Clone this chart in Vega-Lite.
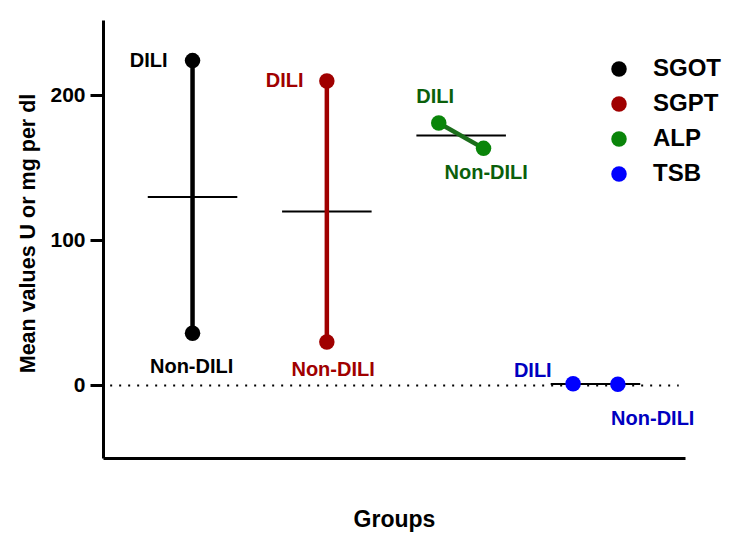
{
  "$schema": "https://vega.github.io/schema/vega-lite/v6.json",
  "autosize": "none",
  "width": 582,
  "height": 438,
  "padding": {"left": 103, "top": 20, "right": 65, "bottom": 97},
  "config": {
    "view": {"stroke": null},
    "font": "Liberation Sans",
    "axis": {"grid": false, "domainColor": "black", "domainWidth": 3, "tickColor": "black", "labelColor": "black", "titleColor": "black", "labelFont": "Liberation Sans", "titleFont": "Liberation Sans"},
    "axisY": {"tickSize": 13, "tickWidth": 3, "labelFontSize": 21, "labelFontWeight": "bold", "labelPadding": 5, "titleFontSize": 21.5, "titleFontWeight": "bold", "titlePadding": 10},
    "axisX": {"labels": false, "ticks": false, "titleFontSize": 23, "titleFontWeight": "bold", "titlePadding": 50}
  },
  "datasets": {
    "points": [
      {"marker": "SGOT", "group": "DILI", "x": 1.0, "value": 224},
      {"marker": "SGOT", "group": "Non-DILI", "x": 1.0, "value": 36},
      {"marker": "SGPT", "group": "DILI", "x": 2.5, "value": 210},
      {"marker": "SGPT", "group": "Non-DILI", "x": 2.5, "value": 30},
      {"marker": "ALP", "group": "DILI", "x": 3.75, "value": 181},
      {"marker": "ALP", "group": "Non-DILI", "x": 4.25, "value": 163.5},
      {"marker": "TSB", "group": "DILI", "x": 5.25, "value": 1.2},
      {"marker": "TSB", "group": "Non-DILI", "x": 5.75, "value": 0.9}
    ],
    "means": [
      {"marker": "SGOT", "x": 0.5, "x2": 1.5, "value": 130},
      {"marker": "SGPT", "x": 2.0, "x2": 3.0, "value": 120},
      {"marker": "ALP", "x": 3.5, "x2": 4.5, "value": 172.3},
      {"marker": "TSB", "x": 5.0, "x2": 6.0, "value": 1.05}
    ],
    "labels": [
      {"marker": "SGOT", "text": "DILI", "x": 0.51, "value": 224},
      {"marker": "SGOT", "text": "Non-DILI", "x": 0.99, "value": 12.4},
      {"marker": "SGPT", "text": "DILI", "x": 2.03, "value": 210},
      {"marker": "SGPT", "text": "Non-DILI", "x": 2.57, "value": 11},
      {"marker": "ALP", "text": "DILI", "x": 3.71, "value": 198.6},
      {"marker": "ALP", "text": "Non-DILI", "x": 4.28, "value": 146.2},
      {"marker": "TSB", "text": "DILI", "x": 4.8, "value": 9.7},
      {"marker": "TSB", "text": "Non-DILI", "x": 6.14, "value": -22.8}
    ],
    "zero": [{"x": 0.08, "x2": 6.43, "value": 0}]
  },
  "layer": [
    {
      "data": {"name": "zero"},
      "mark": {"type": "rule", "strokeDash": [2, 7], "strokeWidth": 2, "color": "black"},
      "encoding": {
        "x": {"field": "x", "type": "quantitative", "scale": {"domain": [0, 6.5], "nice": false, "zero": false},
          "axis": {"title": "Groups"}},
        "x2": {"field": "x2"},
        "y": {"field": "value", "type": "quantitative", "scale": {"domain": [-50, 252], "nice": false, "zero": false},
          "axis": {"title": "Mean values U or mg per dl", "values": [0, 100, 200], "titleY": 213}}
      }
    },
    {
      "data": {"name": "means"},
      "mark": {"type": "rule", "color": "black", "strokeWidth": 2},
      "encoding": {
        "x": {"field": "x", "type": "quantitative"},
        "x2": {"field": "x2"},
        "y": {"field": "value", "type": "quantitative"}
      }
    },
    {
      "data": {"name": "points"},
      "transform": [{"filter": "datum.marker !== 'TSB'"}],
      "mark": {"type": "line", "strokeWidth": 4.5},
      "encoding": {
        "x": {"field": "x", "type": "quantitative"},
        "y": {"field": "value", "type": "quantitative"},
        "detail": {"field": "marker"},
        "color": {"field": "marker", "type": "nominal", "legend": null,
          "scale": {"domain": ["SGOT", "SGPT", "ALP", "TSB"], "range": ["#000000", "#a00000", "#1b6e1b", "#0000ff"]}}
      }
    },
    {
      "data": {"name": "points"},
      "mark": {"type": "circle", "size": 240, "opacity": 1},
      "encoding": {
        "x": {"field": "x", "type": "quantitative"},
        "y": {"field": "value", "type": "quantitative"},
        "color": {"field": "marker", "type": "nominal", "sort": null,
          "scale": {"domain": ["SGOT", "SGPT", "ALP", "TSB"], "range": ["#000000", "#a00000", "#0a850a", "#0000ff"]},
          "legend": {"title": null, "orient": "none", "legendX": 504, "legendY": 37, "padding": 0, "symbolType": "circle", "symbolSize": 240, "symbolOpacity": 1, "labelFontSize": 24, "labelFontWeight": "bold", "labelFont": "Liberation Sans", "labelColor": "black", "labelOffset": 22, "rowPadding": 11}}
      }
    },
    {
      "data": {"name": "labels"},
      "mark": {"type": "text", "fontSize": 20, "fontWeight": "bold", "align": "center", "baseline": "middle"},
      "encoding": {
        "x": {"field": "x", "type": "quantitative"},
        "y": {"field": "value", "type": "quantitative"},
        "text": {"field": "text"},
        "color": {"field": "marker", "type": "nominal", "legend": null,
          "scale": {"domain": ["SGOT", "SGPT", "ALP", "TSB"], "range": ["#000000", "#a00000", "#0b5f0b", "#0000c0"]}}
      }
    }
  ],
  "resolve": {"scale": {"color": "independent"}}
}
